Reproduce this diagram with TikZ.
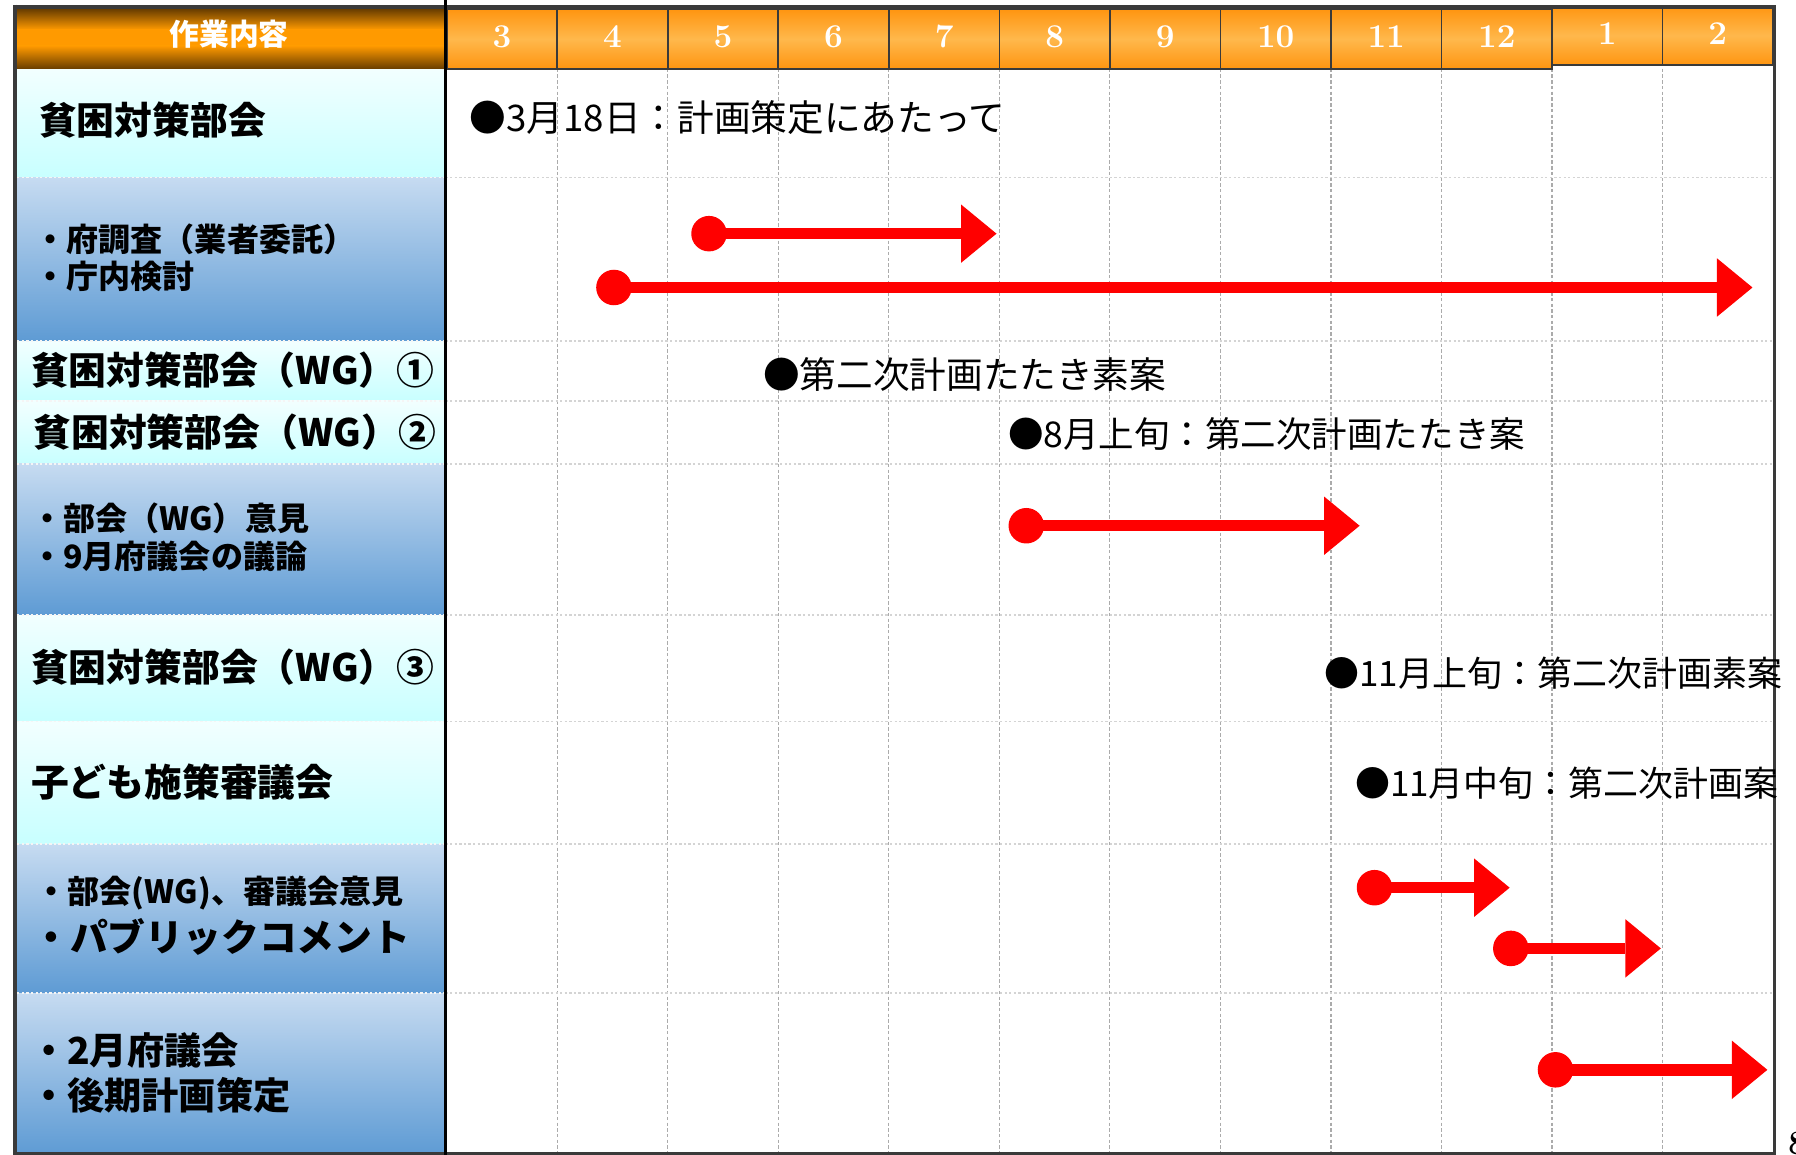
\documentclass[tikz,border=0pt]{standalone}
\usepackage{fontspec}
\newfontfamily\jp{Noto Sans CJK JP}
\usetikzlibrary{arrows.meta}
\definecolor{frame}{HTML}{3A3A3A}
\definecolor{orD}{HTML}{FF9510}
\definecolor{orL}{HTML}{FFB84C}
\definecolor{brD}{HTML}{6A3E00}
\definecolor{brM}{HTML}{FF9A00}
\definecolor{cyT}{HTML}{F2FFFF}
\definecolor{cyB}{HTML}{C8FFFF}
\definecolor{blT}{HTML}{C6DBF1}
\definecolor{blB}{HTML}{5E9BD4}
\definecolor{vg}{HTML}{ABABAB}
\definecolor{hg}{HTML}{D4D4D4}
\begin{document}
\begin{tikzpicture}[x=1pt,y=-1pt,
  cy/.style={top color=cyT,bottom color=cyB},
  bl/.style={top color=blT,bottom color=blB},
  mshade/.style={top color=orD,bottom color=orD,middle color=orL,draw=frame,line width=1.5pt},
  vgrid/.style={vg,line width=1pt,dash pattern=on 3pt off 2pt},
  hgrid/.style={hg,line width=1.5pt,dash pattern=on 2pt off 2pt},
  wgrid/.style={white!92!gray,line width=1.5pt,dash pattern=on 2pt off 2pt},
  mon/.style={text=white,font=\bfseries\fontsize{29}{30}\selectfont,inner sep=0},
  lbig/.style={anchor=west,inner sep=0,font=\jp\bfseries\fontsize{33}{36}\selectfont},
  lmid/.style={anchor=west,inner sep=0,font=\jp\bfseries\fontsize{33}{36}\selectfont},
  lsmall/.style={anchor=west,inner sep=0,align=left,font=\jp\bfseries\fontsize{28}{33}\selectfont},
  note/.style={anchor=west,inner sep=0},
  dot/.style={circle,fill=red,minimum size=31pt,inner sep=0},
  arr/.style={red,line width=10pt,-{Triangle[length=31pt,width=51pt,line width=0pt]}}]
\useasboundingbox (0,0) rectangle (1568,1008);
\fill[white] (0,0) rectangle (1568,1008);
% left column cells
\foreach \t/\b/\c in {60/155/cy,155/298/bl,298/350/cy,350/405/cy,405/537/bl,537/630/cy,630/737/cy,737/867/bl,867/1008/bl}
  \shade[\c] (15,\t) rectangle (389,\b);
% grid
\foreach \k in {1,...,11}
  \draw[vgrid] ({390+96.5*\k},60) -- ({390+96.5*\k},1008);
\foreach \y in {155,298,350,405,537,630,737,867}{
  \draw[hgrid] (389,\y) -- (1548,\y);
  \draw[wgrid] (15,\y) -- (389,\y);}
% header
\shade[top color=brD,bottom color=brM] (15,8) rectangle (389,26);
\fill[brM] (15,25.5) rectangle (389,40.5);
\shade[top color=brM,bottom color=brD] (15,40) rectangle (389,60);
\node[text=white,font=\jp\bfseries\fontsize{26}{28}\selectfont,inner sep=0] (hd) at (200,30) {作業内容};
\foreach \m [count=\i from 0] in {3,4,5,6,7,8,9,10,11,12}{
  \shadedraw[mshade] ({390+96.5*\i},8) rectangle ({390+96.5*(\i+1)},60);
  \node[mon] (m\m) at ({390+96.5*(\i+0.5)},32) {\m};}
\foreach \m [count=\i from 10] in {1,2}{
  \shadedraw[mshade] ({390+96.5*\i},5) rectangle ({390+96.5*(\i+1)},57);
  \node[mon] (m\m) at ({390+96.5*(\i+0.5)},29) {\m};}
% frame
\draw[frame,line width=3pt] (13,4) -- (13,1008);
\draw[frame,line width=3pt] (12,6) -- (1549,6) -- (1549,1008);
\draw[frame,line width=2pt] (13,1007) -- (1549,1007);
\draw[black,line width=2pt] (389,0) -- (389,1008);
% left labels
\node[lbig] (r1) at (34,105) {貧困対策部会};
\node[lsmall] (r2) at (30,225) {・府調査（業者委託）\\・庁内検討};
\node[lmid] (r3) at (27,323) {貧困対策部会（WG）①};
\node[lmid] (r4) at (29,377) {貧困対策部会（WG）②};
\node[lsmall] (r5) at (27,469) {・部会（WG）意見\\・9月府議会の議論};
\node[lmid] (r6) at (27,582) {貧困対策部会（WG）③};
\node[lbig] (r7) at (27,683) {子ども施策審議会};
\node[anchor=west,inner sep=0,font=\jp\bfseries\fontsize{28}{30}\selectfont] (r8a) at (31,780) {・部会(WG)、審議会意見};
\node[anchor=west,inner sep=0,font=\jp\bfseries\fontsize{33}{36}\selectfont] (r8b) at (28,818) {・パブリックコメント};
\node[anchor=west,inner sep=0,font=\jp\bfseries\fontsize{32.5}{34}\selectfont] (r9a) at (26,917) {・2月府議会};
\node[anchor=west,inner sep=0,font=\jp\bfseries\fontsize{32.5}{34}\selectfont] (r9b) at (26,956) {・後期計画策定};
% notes
\node[note,font=\jp\fontsize{32}{34}\selectfont] (n1) at (410,103) {●3月18日：計画策定にあたって};
\node[note,font=\jp\fontsize{32}{34}\selectfont] (n3) at (666,327) {●第二次計画たたき素案};
\node[note,font=\jp\fontsize{31}{34}\selectfont] (n4) at (880,379) {●8月上旬：第二次計画たたき案};
\node[note,font=\jp\fontsize{30.5}{34}\selectfont] (n6) at (1156,588) {●11月上旬：第二次計画素案};
\node[note,font=\jp\fontsize{30.5}{34}\selectfont] (n7) at (1183,684) {●11月中旬：第二次計画案};
% arrows
\node[dot] (a1s) at (619,204) {}; \coordinate (a1e) at (870,204);
\node[dot] (a2s) at (536,251) {}; \coordinate (a2e) at (1530,251);
\node[dot] (a3s) at (896,459) {}; \coordinate (a3e) at (1187,459);
\node[dot] (a4s) at (1200,775) {}; \coordinate (a4e) at (1318,775);
\node[dot] (a5s) at (1319,828) {}; \coordinate (a5e) at (1450,828);
\node[dot] (a6s) at (1358,934) {}; \coordinate (a6e) at (1543,934);
\draw[arr] (a1s.center) -- (a1e);
\draw[arr] (a2s.center) -- (a2e);
\draw[arr] (a3s.center) -- (a3e);
\draw[arr] (a4s.center) -- (a4e);
\draw[arr] (a5s.center) -- (a5e);
\draw[arr] (a6s.center) -- (a6e);
% page number, cut off at the edge as in the reference
\node[anchor=north west,inner sep=0,font=\bfseries\fontsize{30}{30}\selectfont] (pg) at (1561,988) {8};
\end{tikzpicture}
\end{document}
